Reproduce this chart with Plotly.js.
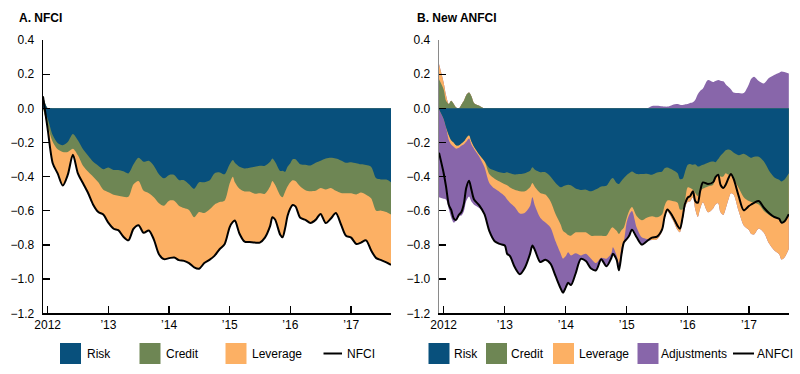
<!DOCTYPE html>
<html><head><meta charset="utf-8">
<script src="https://cdn.plot.ly/plotly-3.0.1.min.js"></script>
<style>html,body{margin:0;padding:0;background:#fff}#chart{width:800px;height:374px}</style>
</head><body><div id="chart"></div>
<script>
// ---------- Panel A: NFCI contributions ----------
const leftDates = ['2011-12-04','2012-01-01','2012-02-01','2012-03-01','2012-04-01','2012-05-01','2012-06-01','2012-07-01','2012-08-01','2012-09-01','2012-10-01','2012-11-01','2012-12-01',
'2013-01-01','2013-02-01','2013-03-01','2013-04-01','2013-05-01','2013-06-01','2013-07-01','2013-08-01','2013-09-01','2013-10-01','2013-11-01','2013-12-01',
'2014-01-01','2014-02-01','2014-03-01','2014-04-01','2014-05-01','2014-06-01','2014-07-01','2014-08-01','2014-09-01','2014-10-01','2014-11-01','2014-12-01',
'2015-01-01','2015-01-20','2015-02-01','2015-03-01','2015-04-01','2015-05-01','2015-06-01','2015-07-01','2015-08-01','2015-09-01','2015-09-15','2015-10-01','2015-11-01','2015-11-15','2015-12-01','2015-12-15',
'2016-01-01','2016-01-15','2016-02-01','2016-03-01','2016-04-01','2016-05-01','2016-06-01','2016-07-01','2016-08-01','2016-09-01','2016-10-01','2016-11-01','2016-12-01',
'2017-01-01','2017-02-01','2017-03-01','2017-04-01','2017-05-01','2017-06-01','2017-07-01','2017-08-01','2017-08-29'];
const leftRisk = [0.07,-0.06,-0.158,-0.203,-0.216,-0.197,-0.150,-0.187,-0.24,-0.278,-0.313,-0.336,-0.356,
-0.346,-0.361,-0.361,-0.369,-0.381,-0.328,-0.29,-0.313,-0.307,-0.336,-0.386,-0.41,
-0.39,-0.39,-0.419,-0.421,-0.444,-0.471,-0.433,-0.433,-0.423,-0.381,-0.375,-0.386,
-0.328,-0.303,-0.319,-0.342,-0.352,-0.348,-0.342,-0.336,-0.336,-0.313,-0.294,-0.313,-0.367,-0.365,-0.371,-0.342,
-0.321,-0.298,-0.298,-0.328,-0.33,-0.334,-0.319,-0.307,-0.294,-0.29,-0.294,-0.305,-0.319,
-0.315,-0.321,-0.328,-0.332,-0.342,-0.41,-0.417,-0.417,-0.433];
const leftCredit = [0,-0.04,-0.039,-0.037,-0.039,-0.058,-0.086,-0.087,-0.096,-0.093,-0.087,-0.097,-0.121,
-0.145,-0.145,-0.151,-0.149,-0.137,-0.116,-0.135,-0.17,-0.19,-0.184,-0.169,-0.16,
-0.151,-0.151,-0.151,-0.163,-0.151,-0.167,-0.174,-0.18,-0.17,-0.183,-0.174,-0.155,
-0.111,-0.097,-0.114,-0.129,-0.135,-0.139,-0.158,-0.161,-0.164,-0.145,-0.131,-0.135,-0.143,-0.155,-0.116,-0.116,
-0.112,-0.123,-0.127,-0.13,-0.149,-0.151,-0.164,-0.159,-0.181,-0.176,-0.189,-0.19,-0.178,
-0.182,-0.183,-0.165,-0.174,-0.184,-0.189,-0.182,-0.19,-0.189];
const leftLeverage = [0,-0.02,-0.126,-0.141,-0.197,-0.135,-0.036,-0.107,-0.103,-0.126,-0.164,-0.174,-0.145,
-0.18,-0.199,-0.201,-0.234,-0.255,-0.261,-0.259,-0.246,-0.218,-0.247,-0.299,-0.313,
-0.336,-0.332,-0.319,-0.309,-0.311,-0.293,-0.332,-0.293,-0.294,-0.30,-0.276,-0.255,
-0.256,-0.265,-0.224,-0.263,-0.294,-0.296,-0.286,-0.289,-0.257,-0.232,-0.213,-0.203,-0.23,-0.235,-0.213,-0.172,
-0.152,-0.145,-0.149,-0.183,-0.174,-0.186,-0.17,-0.152,-0.197,-0.179,-0.13,-0.185,-0.249,
-0.26,-0.29,-0.293,-0.267,-0.305,-0.278,-0.29,-0.295,-0.294];

// ---------- Panel B: new ANFCI contributions ----------
const rightDates = ['2011-12-04','2012-01-01','2012-01-15','2012-02-01','2012-02-15','2012-03-01','2012-03-15','2012-04-01','2012-04-15','2012-05-01','2012-05-15','2012-06-01','2012-06-15','2012-07-01','2012-08-01','2012-09-01','2012-10-01','2012-11-01','2012-12-01',
'2013-01-01','2013-01-15','2013-02-01','2013-03-01','2013-04-01','2013-05-01','2013-06-01','2013-06-15','2013-07-01','2013-08-01','2013-09-01','2013-10-01','2013-11-01','2013-12-01','2013-12-15',
'2014-01-01','2014-01-15','2014-02-01','2014-03-01','2014-04-01','2014-05-01','2014-06-01','2014-07-01','2014-08-01','2014-09-01','2014-10-01','2014-10-10','2014-11-01','2014-11-15','2014-12-01','2014-12-15',
'2015-01-01','2015-01-15','2015-02-01','2015-03-01','2015-04-01','2015-05-01','2015-06-01','2015-07-01','2015-08-01','2015-08-15','2015-09-01','2015-10-01','2015-11-01','2015-11-15','2015-12-01','2015-12-15',
'2016-01-01','2016-01-15','2016-02-01','2016-02-15','2016-03-01','2016-03-15','2016-04-01','2016-05-01','2016-06-01','2016-06-15','2016-07-01','2016-07-15','2016-08-01','2016-08-15','2016-09-01','2016-09-15','2016-10-01','2016-11-01','2016-12-01',
'2017-01-01','2017-01-15','2017-02-01','2017-03-01','2017-04-01','2017-05-01','2017-06-01','2017-07-01','2017-07-15','2017-08-01','2017-08-28'];
const rightRisk = [-0.005,-0.062,-0.11,-0.158,-0.187,-0.20,-0.216,-0.216,-0.206,-0.193,-0.173,-0.158,-0.193,-0.225,-0.27,-0.308,-0.351,-0.364,-0.374,
-0.378,-0.374,-0.38,-0.387,-0.385,-0.38,-0.366,-0.345,-0.36,-0.374,-0.374,-0.399,-0.437,-0.462,-0.457,
-0.451,-0.447,-0.451,-0.47,-0.478,-0.476,-0.486,-0.474,-0.457,-0.453,-0.412,-0.408,-0.437,-0.443,-0.424,-0.408,
-0.39,-0.38,-0.37,-0.385,-0.385,-0.383,-0.389,-0.376,-0.37,-0.351,-0.347,-0.36,-0.38,-0.414,-0.412,-0.374,
-0.331,-0.326,-0.331,-0.328,-0.341,-0.337,-0.331,-0.318,-0.312,-0.316,-0.297,-0.277,-0.26,-0.245,-0.241,-0.245,-0.258,-0.274,-0.266,
-0.283,-0.289,-0.283,-0.283,-0.312,-0.364,-0.403,-0.418,-0.428,-0.418,-0.38];
const rightCredit = [0.17,0.11,0.044,0.025,0.044,0.025,0.005,0.0,0.02,0.044,0.077,0.092,0.07,0.03,0.015,0.0,-0.035,-0.048,-0.054,
-0.066,-0.077,-0.083,-0.089,-0.10,-0.106,-0.096,-0.092,-0.102,-0.121,-0.131,-0.145,-0.183,-0.218,-0.26,
-0.279,-0.295,-0.295,-0.256,-0.248,-0.25,-0.26,-0.272,-0.289,-0.293,-0.289,-0.289,-0.28,-0.293,-0.289,-0.289,
-0.25,-0.221,-0.208,-0.245,-0.27,-0.257,-0.243,-0.262,-0.25,-0.221,-0.193,-0.183,-0.173,-0.178,-0.18,-0.169,
-0.131,-0.14,-0.145,-0.167,-0.173,-0.149,-0.139,-0.139,-0.135,-0.083,-0.092,-0.122,-0.139,-0.135,-0.148,-0.135,-0.154,-0.192,-0.254,
-0.26,-0.26,-0.27,-0.28,-0.289,-0.26,-0.237,-0.229,-0.246,-0.251,-0.24];
const rightLeverage = [0.09,0.04,0.033,-0.029,-0.025,-0.025,-0.02,-0.015,-0.013,-0.017,-0.023,-0.019,-0.019,-0.013,-0.013,-0.035,-0.052,-0.058,-0.062,
-0.071,-0.083,-0.09,-0.102,-0.131,-0.125,-0.11,-0.083,-0.11,-0.145,-0.164,-0.154,-0.16,-0.17,-0.163,
-0.135,-0.10,-0.115,-0.122,-0.135,-0.126,-0.134,-0.16,-0.129,-0.134,-0.147,-0.116,-0.144,-0.17,-0.10,-0.078,
-0.025,-0.023,-0.023,-0.067,-0.10,-0.125,-0.139,-0.128,-0.099,-0.074,-0.062,-0.107,-0.16,-0.134,-0.068,-0.04,
-0.085,-0.079,-0.045,-0.098,-0.122,-0.102,-0.08,-0.152,-0.139,-0.164,-0.166,-0.21,-0.225,-0.208,-0.144,-0.117,-0.092,-0.137,-0.166,
-0.17,-0.187,-0.185,-0.14,-0.127,-0.166,-0.191,-0.208,-0.211,-0.206,-0.204];
const rightAdjust = [-0.515,-0.468,-0.424,-0.404,-0.427,-0.444,-0.422,-0.393,-0.41,-0.393,-0.347,-0.339,-0.334,-0.326,-0.30,-0.277,-0.283,-0.308,-0.304,
-0.288,-0.318,-0.312,-0.351,-0.355,-0.322,-0.28,-0.283,-0.26,-0.26,-0.217,-0.211,-0.203,-0.204,-0.199,
-0.183,-0.179,-0.174,-0.119,-0.02,-0.042,-0.058,-0.042,-0.009,-0.045,-0.027,-0.039,-0.025,-0.042,-0.039,-0.009,
-0.10,-0.122,-0.11,-0.058,-0.043,-0.013,0.014,0.015,0.012,0.01,0.01,0.02,0.025,0.021,0.02,0.023,
0.025,0.031,0.035,0.05,0.083,0.102,0.116,0.166,0.154,0.16,0.166,0.162,0.158,0.141,0.125,0.112,0.092,0.089,0.089,
0.141,0.173,0.185,0.16,0.146,0.177,0.195,0.208,0.216,0.212,0.204];

// ---------- Axis ticks ----------
const xTickVals = ['2012-01-01','2013-01-01','2014-01-01','2015-01-01','2016-01-01','2017-01-01'];
const xTickText = ['2012','\u201913','\u201914','\u201915','\u201916','\u201917'];
const yTickVals = [-1.2,-1.0,-0.8,-0.6,-0.4,-0.2,0,0.2,0.4];
const yTickText = ['\u22121.2','\u22121.0','\u22120.8','\u22120.6','\u22120.4','\u22120.2','0.0','0.2','0.4'];

const COLORS = {risk:'#08507c', credit:'#6e8654', leverage:'#fcb064', adjust:'#8866aa'};

function stackTraces(dates, comps, colors, xa, ya) {
  const n = dates.length;
  const pos = comps.map(() => new Array(n).fill(0));
  const neg = comps.map(() => new Array(n).fill(0));
  for (let i = 0; i < n; i++) {
    let p = 0, q = 0;
    comps.forEach((c, k) => {
      const v = c[i];
      if (v >= 0) p += v; else q += v;
      pos[k][i] = p; neg[k][i] = q;
    });
  }
  const traces = [];
  for (let k = comps.length - 1; k >= 0; k--) {
    [neg[k], pos[k]].forEach(arr => {
      if (arr.some(v => Math.abs(v) > 1e-9)) {
        traces.push({type:'scatter', mode:'lines', x:dates, y:arr, xaxis:xa, yaxis:ya,
          fill:'tozeroy', fillcolor:colors[k], line:{width:0, shape:'spline', smoothing:0.8},
          hoverinfo:'skip', showlegend:false});
      }
    });
  }
  const total = dates.map((_, i) => comps.reduce((s, c) => s + c[i], 0));
  traces.push({type:'scatter', mode:'lines', x:dates, y:total, xaxis:xa, yaxis:ya,
    line:{color:'#000', width:2, shape:'spline', smoothing:0.8}, hoverinfo:'skip', showlegend:false});
  return traces;
}

const data = [].concat(
  stackTraces(leftDates, [leftRisk, leftCredit, leftLeverage],
    [COLORS.risk, COLORS.credit, COLORS.leverage], 'x', 'y'),
  stackTraces(rightDates, [rightRisk, rightCredit, rightLeverage, rightAdjust],
    [COLORS.risk, COLORS.credit, COLORS.leverage, COLORS.adjust], 'x2', 'y2')
);

const W = 800, H = 374;
const px = v => v / W, py = v => 1 - v / H;
const FONT = 'Liberation Sans, Arial, Helvetica, sans-serif';

function xAxis(domain, anchor) {
  return {domain, anchor, type:'date', range:['2011-12-04','2017-08-29'],
    tickmode:'array', tickvals:xTickVals, ticktext:xTickText,
    ticks:'inside', ticklen:7, tickwidth:1.3, tickcolor:'#000',
    showline:true, linecolor:'#000', linewidth:1.5, showgrid:false, zeroline:false,
    tickfont:{size:12, color:'#000', family:FONT}, fixedrange:true};
}
function yAxis(anchor, lineColor) {
  return {domain:[py(313.3), py(40)], anchor, range:[-1.2, 0.4],
    tickmode:'array', tickvals:yTickVals, ticktext:yTickText,
    ticks:'inside', ticklen:7, tickwidth:1.3, tickcolor:'#000',
    showline:true, linecolor:lineColor, linewidth:1.3, showgrid:false, zeroline:false,
    ticklabelstandoff:5, tickfont:{size:12, color:'#000', family:FONT}, fixedrange:true};
}

const shapes = [], annotations = [];
function legendBox(x, color) {
  shapes.push({type:'rect', xref:'paper', yref:'paper', x0:px(x), x1:px(x+21), y0:py(364), y1:py(343),
    fillcolor:color, line:{width:0}});
}
function legendLine(x0, x1) {
  shapes.push({type:'line', xref:'paper', yref:'paper', x0:px(x0), x1:px(x1), y0:py(353.5), y1:py(353.5),
    line:{color:'#000', width:2}});
}
function legendText(x, text) {
  annotations.push({xref:'paper', yref:'paper', x:px(x), y:py(353.5), xanchor:'left', yanchor:'middle',
    text, showarrow:false, font:{size:12, color:'#000', family:FONT}, borderpad:0});
}
// left legend
legendBox(60, COLORS.risk); legendText(85.5, 'Risk');
legendBox(139.5, COLORS.credit); legendText(165, 'Credit');
legendBox(225.5, COLORS.leverage); legendText(251, 'Leverage');
legendLine(323.5, 342); legendText(345.5, 'NFCI');
// right legend
legendBox(428.5, COLORS.risk); legendText(452.5, 'Risk');
legendBox(486, COLORS.credit); legendText(509.5, 'Credit');
legendBox(553, COLORS.leverage); legendText(577.5, 'Leverage');
legendBox(637.5, COLORS.adjust); legendText(660, 'Adjustments');
legendLine(733, 754); legendText(756, 'ANFCI');

// panel titles
annotations.push({xref:'paper', yref:'paper', x:px(18), y:py(18.5), xanchor:'left', yanchor:'middle',
  text:'<b>A. NFCI</b>', showarrow:false, font:{size:12, color:'#000', family:FONT}, borderpad:0});
annotations.push({xref:'paper', yref:'paper', x:px(416), y:py(18.5), xanchor:'left', yanchor:'middle',
  text:'<b>B. New ANFCI</b>', showarrow:false, font:{size:12, color:'#000', family:FONT}, borderpad:0});

const layout = {
  width:W, height:H, margin:{l:0, r:0, t:0, b:0, pad:0},
  paper_bgcolor:'#fff', plot_bgcolor:'#fff', showlegend:false,
  font:{family:FONT, size:12, color:'#000'},
  xaxis: xAxis([px(43), px(391)], 'y'),
  yaxis: yAxis('x', '#000'),
  xaxis2: xAxis([px(439), px(789)], 'y2'),
  yaxis2: yAxis('x2', '#8a8a8a'),
  shapes, annotations
};

Plotly.newPlot('chart', data, layout, {displayModeBar:false, staticPlot:true});
</script>
</body></html>
